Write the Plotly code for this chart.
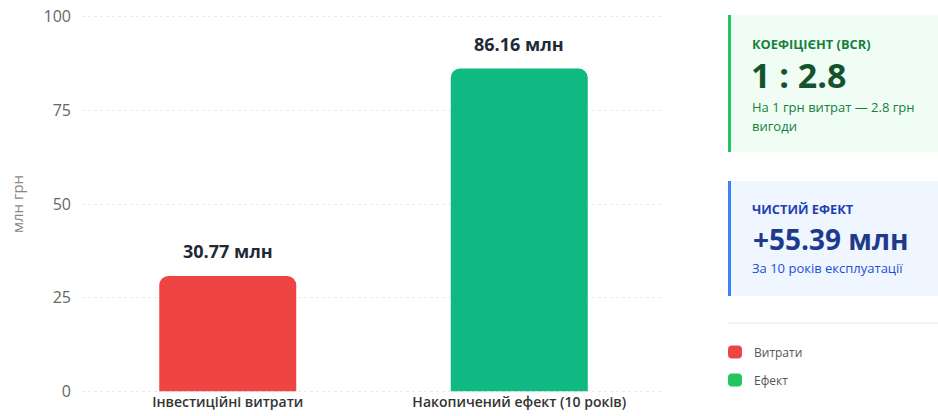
import plotly.graph_objects as go

categories = ["Інвестиційні витрати", "Накопичений ефект (10 років)"]
values = [30.77, 86.16]
bar_labels = ["30.77 млн", "86.16 млн"]
bar_colors = ["#ef4444", "#10b981"]
y_ticks = [0, 25, 50, 75, 100]
legend_names = ["Витрати", "Ефект"]
legend_colors = ["#ef4444", "#22c55e"]

W, H = 938, 416
L, R, T, B = 82, 273, 13, 21
PW, PH = W - L - R, H - T - B
FONT = "Open Sans, Noto Sans, sans-serif"


def px(x):
    return (x - L) / PW


def py(y):
    return (H - B - y) / PH


fig = go.Figure()
fig.add_trace(go.Bar(
    x=categories, y=values, marker=dict(color=bar_colors, cornerradius=9, line=dict(width=0)),
    width=0.47, showlegend=False, hoverinfo="skip",
))

for c, v, t in zip(categories, values, bar_labels):
    fig.add_annotation(x=c, y=v, text=f"<b>{t}</b>", showarrow=False, yanchor="bottom",
                       yshift=11, font=dict(size=18, color="#1f2937", family=FONT))

shapes = []
annots = []

# Card 1
shapes.append(dict(type="rect", xref="paper", yref="paper", x0=px(728), x1=px(938), y0=py(152), y1=py(15),
                   fillcolor="#f0fdf4", line=dict(width=0), layer="below"))
shapes.append(dict(type="rect", xref="paper", yref="paper", x0=px(728), x1=px(731), y0=py(152), y1=py(15),
                   fillcolor="#22c55e", line=dict(width=0)))
annots += [
    dict(x=px(750), y=py(44), text="<b>КОЕФІЦІЄНТ (BCR)</b>", font=dict(size=12.8, color="#15803d")),
    dict(x=px(749), y=py(75), text="<b>1 : 2.8</b>", font=dict(size=34, color="#14532d", weight=800)),
    dict(x=px(750), y=py(107), text="На 1 грн витрат — 2.8 грн", font=dict(size=13, color="#15803d")),
    dict(x=px(750), y=py(126), text="вигоди", font=dict(size=13, color="#15803d")),
]

# Card 2
shapes.append(dict(type="rect", xref="paper", yref="paper", x0=px(728), x1=px(938), y0=py(296), y1=py(181),
                   fillcolor="#eff6ff", line=dict(width=0), layer="below"))
shapes.append(dict(type="rect", xref="paper", yref="paper", x0=px(728), x1=px(731), y0=py(296), y1=py(181),
                   fillcolor="#3b82f6", line=dict(width=0)))
annots += [
    dict(x=px(750), y=py(209), text="<b>ЧИСТИЙ ЕФЕКТ</b>", font=dict(size=12.8, color="#1e40af")),
    dict(x=px(751), y=py(239), text="<b>+55.39 млн</b>", font=dict(size=28, color="#1e3a8a", weight=800)),
    dict(x=px(750), y=py(268), text="За 10 років експлуатації", font=dict(size=13, color="#1d4ed8")),
]

# Divider
shapes.append(dict(type="line", xref="paper", yref="paper", x0=px(728), x1=px(938), y0=py(323), y1=py(323),
                   line=dict(color="#e5e7eb", width=1)))

# Legend
for i, (n, col) in enumerate(zip(legend_names, legend_colors)):
    cy = 352 + i * 28
    x0, x1, y0, y1 = 728, 742, cy - 6.5, cy + 6.5
    r = 4
    path = (f"M {px(x0 + r)} {py(y0)} L {px(x1 - r)} {py(y0)} Q {px(x1)} {py(y0)} {px(x1)} {py(y0 + r)} "
            f"L {px(x1)} {py(y1 - r)} Q {px(x1)} {py(y1)} {px(x1 - r)} {py(y1)} "
            f"L {px(x0 + r)} {py(y1)} Q {px(x0)} {py(y1)} {px(x0)} {py(y1 - r)} "
            f"L {px(x0)} {py(y0 + r)} Q {px(x0)} {py(y0)} {px(x0 + r)} {py(y0)} Z")
    shapes.append(dict(type="path", xref="paper", yref="paper", path=path, fillcolor=col, line=dict(width=0)))
    annots.append(dict(x=px(752), y=py(cy), text=n, font=dict(size=12, color="#555555")))

for a in annots:
    a.update(xref="paper", yref="paper", xanchor="left", yanchor="middle", showarrow=False)
    a["font"]["family"] = FONT
    fig.add_annotation(**a)

fig.update_layout(
    width=W, height=H, margin=dict(l=L, r=R, t=T, b=B, pad=0, autoexpand=False),
    paper_bgcolor="white", plot_bgcolor="white",
    font=dict(family=FONT), shapes=shapes, bargap=0.5,
)
fig.update_xaxes(range=[-0.5, 1.5], showgrid=False, showline=False, ticks="", automargin=False,
                 tickfont=dict(size=14, color="#333333", family=FONT, weight=600), ticklabelstandoff=-3)
fig.update_yaxes(range=[-1, 101], tickvals=y_ticks, showgrid=True, gridcolor="#ebebeb", griddash="3px,3px",
                 zeroline=False, showline=False, ticks="", ticklabelstandoff=10, automargin=False,
                 tickfont=dict(size=16, color="#666666", family=FONT),
                 title=dict(text="млн грн", font=dict(size=15, color="#888888", family=FONT), standoff=16))

fig.write_html("out.html")
